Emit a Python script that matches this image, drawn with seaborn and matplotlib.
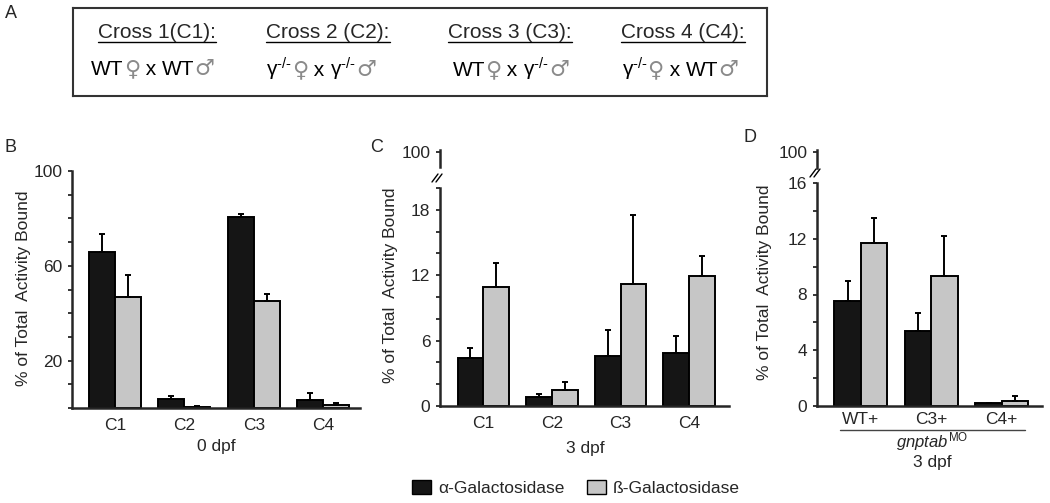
import numpy as np
import pandas as pd
import matplotlib
matplotlib.use("Agg")
import matplotlib.pyplot as plt
from matplotlib.lines import Line2D
from matplotlib.patches import Patch
from matplotlib.offsetbox import TextArea, HPacker, AnnotationBbox
from matplotlib.ticker import MultipleLocator
import seaborn as sns

# ---- data ----
enzymes = ["α-Galactosidase", "ß-Galactosidase"]
crosses = ["C1", "C2", "C3", "C4"]

# B: 0 dpf
b_alpha = [65.8, 3.8, 80.4, 3.5]
b_alpha_err = [7.8, 1.2, 1.4, 3.0]
b_beta = [46.8, 0.3, 45.1, 1.4]
b_beta_err = [9.3, 0.4, 3.1, 0.7]

# C: 3 dpf
c_alpha = [4.4, 0.8, 4.6, 4.9]
c_alpha_err = [0.9, 0.3, 2.4, 1.5]
c_beta = [10.9, 1.5, 11.2, 11.9]
c_beta_err = [2.2, 0.7, 6.3, 1.9]

# D: gnptab morphants, 3 dpf
morphants = ["WT+", "C3+", "C4+"]
d_alpha = [7.5, 5.4, 0.2]
d_alpha_err = [1.5, 1.3, 0.05]
d_beta = [11.7, 9.3, 0.36]
d_beta_err = [1.8, 2.9, 0.36]

cross_titles = ["Cross 1(C1):", "Cross 2 (C2):", "Cross 3 (C3):", "Cross 4 (C4):"]
KO = r"γ$^{\text{-/-}}$"
cross_parents = [("WT", "WT"), (KO, KO), ("WT", KO), (KO, "WT")]

DARK = "#151515"
LIGHT = "#c6c6c6"
SYM = "#8a8a8a"

sns.set_style("ticks")
plt.rcParams["font.family"] = ["Liberation Sans", "DejaVu Sans"]
plt.rcParams["mathtext.fontset"] = "custom"
plt.rcParams["mathtext.rm"] = "Liberation Sans"
plt.rcParams["mathtext.it"] = "Liberation Sans:italic"

W, H = 1050, 503
fig = plt.figure(figsize=(W / 100, H / 100), dpi=100)


def fx(x):
    return x / W


def fy(y):
    return 1 - y / H


def add_ax(left, top, right, bottom):
    return fig.add_axes([fx(left), fy(bottom), (right - left) / W, (bottom - top) / H])


def bars(ax, cats, alpha, beta, alpha_err, beta_err):
    df = pd.DataFrame({
        "group": cats * 2,
        "enzyme": [enzymes[0]] * len(cats) + [enzymes[1]] * len(cats),
        "value": alpha + beta,
    })
    sns.barplot(data=df, x="group", y="value", hue="enzyme", palette=[DARK, LIGHT],
                width=0.75, edgecolor="black", linewidth=1.4, errorbar=None,
                saturation=1, legend=False, ax=ax)
    for cont, err in zip(ax.containers, [alpha_err, beta_err]):
        xs = [p.get_x() + p.get_width() / 2 for p in cont]
        ys = [p.get_height() for p in cont]
        ax.errorbar(xs, ys, yerr=[np.zeros(len(err)), err], fmt="none", ecolor="black",
                    elinewidth=1.4, capsize=2.2, capthick=1.4, zorder=1)


def style(ax, xlim, ylim, major, minor, xpad=7):
    sns.despine(ax=ax)
    ax.set_xlim(xlim)
    ax.set_ylim(ylim)
    ax.set_yticks(major)
    ax.yaxis.set_minor_locator(MultipleLocator(minor))
    ax.tick_params(axis="y", which="both", length=3, width=1.3, labelsize=12.5, pad=4)
    ax.tick_params(axis="x", length=0, labelsize=12.5, pad=xpad)
    for s in ("left", "bottom"):
        ax.spines[s].set_linewidth(1.8)
    ax.set_xlabel("")
    ax.set_ylabel("")


def top_stub(left, top, bottom):
    ax = add_ax(left, top, left + 10, bottom)
    ax.set_facecolor("none")
    sns.despine(ax=ax, bottom=True)
    ax.set_xticks([])
    ax.set_ylim(100 - (bottom - top - 2), 102)
    ax.set_yticks([100])
    ax.tick_params(axis="y", length=3, width=1.3, labelsize=12.5, pad=4)
    ax.spines["left"].set_linewidth(1.8)
    return ax


def break_mark(x, y):
    for dx in (-2, 2):
        fig.add_artist(Line2D([fx(x + dx - 3), fx(x + dx + 3)], [fy(y + 4), fy(y - 4)],
                              color="black", lw=1.0))


# ---- panel A ----
ax_a = add_ax(73, 8, 767, 96)
ax_a.set_xticks([])
ax_a.set_yticks([])
for s in ax_a.spines.values():
    s.set_visible(True)
    s.set_linewidth(1.5)
    s.set_color("#333333")

head_x = [157, 328, 510, 683]
row_x = [153, 321, 511, 680]
heads = []
for title, hx in zip(cross_titles, head_x):
    heads.append(fig.text(fx(hx), fy(32), title, ha="center", va="center", fontsize=15))
txt = dict(color="black", fontsize=15)
sym = dict(color=SYM, fontsize=16, family="DejaVu Sans")
for (mother, father), rx in zip(cross_parents, row_x):
    parts = [(mother, txt), ("♀", sym), (" x ", txt), (father, txt), ("♂", sym)]
    pack = HPacker(children=[TextArea(s, textprops=p) for s, p in parts],
                   align="baseline", pad=0, sep=0)
    fig.add_artist(AnnotationBbox(pack, (fx(rx), fy(69)), xycoords="figure fraction",
                                  frameon=False, box_alignment=(0.5, 0.5)))

# ---- panel B ----
ax_b = add_ax(72, 171, 360, 408)
bars(ax_b, crosses, b_alpha, b_beta, b_alpha_err, b_beta_err)
style(ax_b, (-0.62, 3.53), (0, 100), [20, 60, 100], 10)

# ---- panel C ----
ax_c = add_ax(440, 188, 729, 406)
bars(ax_c, crosses, c_alpha, c_beta, c_alpha_err, c_beta_err)
style(ax_c, (-0.63, 3.58), (0, 20), [0, 6, 12, 18], 2)
top_stub(440, 150, 167)
break_mark(437, 178)

# ---- panel D ----
ax_d = add_ax(817, 183, 1042, 406)
bars(ax_d, morphants, d_alpha, d_beta, d_alpha_err, d_beta_err)
style(ax_d, (-0.62, 2.57), (0, 16), [0, 4, 8, 12, 16], 2, xpad=4)
top_stub(817, 150, 168)
break_mark(815, 173)

# ---- labels ----
ylab = "% of Total  Activity Bound"
for x, y in [(24, 288), (391, 285), (765, 282)]:
    fig.text(fx(x), fy(y), ylab, rotation=90, ha="center", va="center", fontsize=12.5)
fig.text(fx(216), fy(446), "0 dpf", ha="center", va="center", fontsize=12.5)
fig.text(fx(585), fy(448), "3 dpf", ha="center", va="center", fontsize=12.5)
fig.add_artist(Line2D([fx(840), fx(1025)], [fy(430), fy(430)], color="#444444", lw=1.0))
fig.text(fx(932), fy(442), r"$\mathit{gnptab}^{\mathrm{MO}}$", ha="center", va="center", fontsize=12)
fig.text(fx(932), fy(462), "3 dpf", ha="center", va="center", fontsize=12.5)

for letter, x, y in [("A", 11, 13), ("B", 10, 147), ("C", 377, 148), ("D", 750, 138)]:
    fig.text(fx(x), fy(y), letter, ha="center", va="center", fontsize=13)

fig.legend(handles=[Patch(facecolor=DARK, edgecolor="black"), Patch(facecolor=LIGHT, edgecolor="black")],
           labels=enzymes, loc="center", bbox_to_anchor=(fx(576), fy(488)), ncol=2, frameon=False,
           fontsize=12.5, handlelength=1.1, handleheight=0.9, handletextpad=0.4, columnspacing=1.3)

# underline the cross headers
fig.canvas.draw()
renderer = fig.canvas.get_renderer()
for t in heads:
    bb = t.get_window_extent(renderer)
    fig.add_artist(Line2D([bb.x0 / fig.bbox.width, bb.x1 / fig.bbox.width],
                          [(bb.y0 - 0.5) / fig.bbox.height] * 2, color="black", lw=1.0))

fig.savefig("out.png", dpi=100)
